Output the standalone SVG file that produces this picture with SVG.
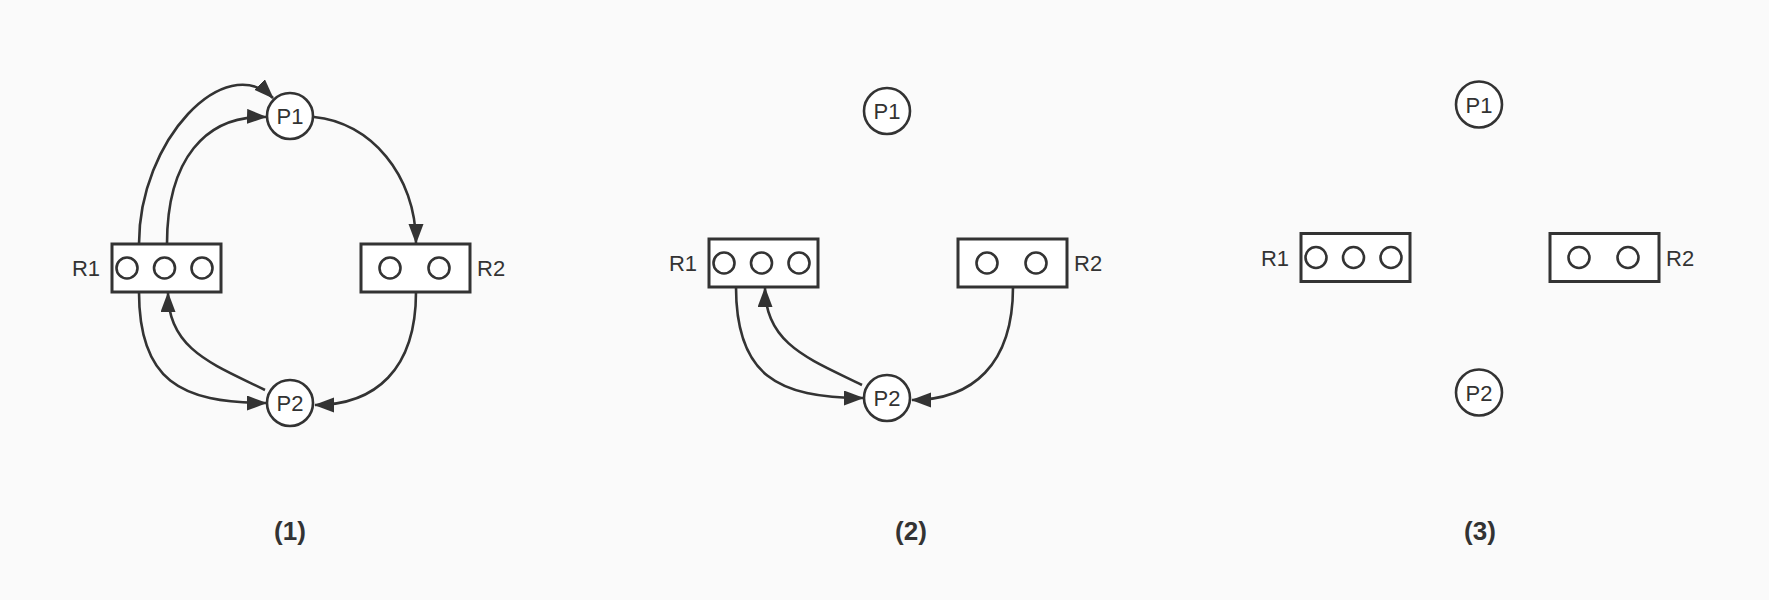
<svg xmlns="http://www.w3.org/2000/svg" width="1769" height="600" viewBox="0 0 1769 600">
<style>
.bg{fill:#fafafa}
.proc circle{fill:#fff;stroke:#333;stroke-width:2.6}
.res rect{fill:#fff;stroke:#333;stroke-width:3}
.res circle{fill:none;stroke:#333;stroke-width:2.6}
.lbl{font-family:"Liberation Sans",Arial,sans-serif;font-size:22px;fill:#333}
.cap{font-family:"Liberation Sans",Arial,sans-serif;font-size:26px;font-weight:bold;fill:#333;text-anchor:middle}
.edge{fill:none;stroke:#333;stroke-width:2.6;marker-end:url(#arr)}
</style>
<defs>
<marker id="arr" markerUnits="userSpaceOnUse" markerWidth="22" markerHeight="16" refX="19" refY="7.5" orient="auto">
<path d="M0,0 L20,7.5 L0,15 Z" fill="#333"/>
</marker>
</defs>
<rect class="bg" x="0" y="0" width="1769" height="600"/>

<!-- Panel 1 -->
<g id="panel1">
<g id="connectors1">
<path class="edge" d="M139,244 C139,140 225,50 273,98"/>
<path class="edge" d="M167,244 C167,160 205,115 266,117"/>
<path class="edge" d="M314,117 C370,122 416,175 416,243"/>
<path class="edge" d="M416,292 C416,370 375,405 315,405"/>
<path class="edge" d="M139,292 C139,380 180,403 266,403"/>
<path class="edge" d="M265,390 C215,365 168,350 168,293"/>
</g>
<g id="p1_P1" class="proc"><circle cx="290" cy="116" r="23"/><text class="lbl" x="290" y="124" text-anchor="middle">P1</text></g>
<g id="p1_P2" class="proc"><circle cx="290" cy="403" r="23"/><text class="lbl" x="290" y="411" text-anchor="middle">P2</text></g>
<g id="p1_R1" class="res"><rect x="112" y="244" width="109" height="48"/><circle cx="127" cy="268" r="10.5"/><circle cx="164.5" cy="268" r="10.5"/><circle cx="202" cy="268" r="10.5"/><text class="lbl" x="100" y="276" text-anchor="end">R1</text></g>
<g id="p1_R2" class="res"><rect x="361" y="244" width="109" height="48"/><circle cx="390" cy="268" r="10.5"/><circle cx="439" cy="268" r="10.5"/><text class="lbl" x="477" y="276">R2</text></g>
</g>

<!-- Panel 2 -->
<g id="panel2" transform="translate(597,-5)">
<g id="connectors2">
<path class="edge" d="M139,292 C139,380 180,403 266,403"/>
<path class="edge" d="M265,390 C215,365 168,350 168,293"/>
<path class="edge" d="M416,292 C416,370 375,405 315,405"/>
</g>
<g id="p2_P1" class="proc"><circle cx="290" cy="116" r="23"/><text class="lbl" x="290" y="124" text-anchor="middle">P1</text></g>
<g id="p2_P2" class="proc"><circle cx="290" cy="403" r="23"/><text class="lbl" x="290" y="411" text-anchor="middle">P2</text></g>
<g id="p2_R1" class="res"><rect x="112" y="244" width="109" height="48"/><circle cx="127" cy="268" r="10.5"/><circle cx="164.5" cy="268" r="10.5"/><circle cx="202" cy="268" r="10.5"/><text class="lbl" x="100" y="276" text-anchor="end">R1</text></g>
<g id="p2_R2" class="res"><rect x="361" y="244" width="109" height="48"/><circle cx="390" cy="268" r="10.5"/><circle cx="439" cy="268" r="10.5"/><text class="lbl" x="477" y="276">R2</text></g>
</g>

<!-- Panel 3 -->
<g id="panel3" transform="translate(1189,-10.5)">
<g id="p3_P1" class="proc"><circle cx="290" cy="115" r="23"/><text class="lbl" x="290" y="123" text-anchor="middle">P1</text></g>
<g id="p3_P2" class="proc"><circle cx="290" cy="403" r="23"/><text class="lbl" x="290" y="411" text-anchor="middle">P2</text></g>
<g id="p3_R1" class="res"><rect x="112" y="244" width="109" height="48"/><circle cx="127" cy="268" r="10.5"/><circle cx="164.5" cy="268" r="10.5"/><circle cx="202" cy="268" r="10.5"/><text class="lbl" x="100" y="276" text-anchor="end">R1</text></g>
<g id="p3_R2" class="res"><rect x="361" y="244" width="109" height="48"/><circle cx="390" cy="268" r="10.5"/><circle cx="439" cy="268" r="10.5"/><text class="lbl" x="477" y="276">R2</text></g>
</g>

<g id="captions">
<text class="cap" x="290" y="540">(1)</text>
<text class="cap" x="911" y="540">(2)</text>
<text class="cap" x="1480" y="540">(3)</text>
</g>
</svg>
